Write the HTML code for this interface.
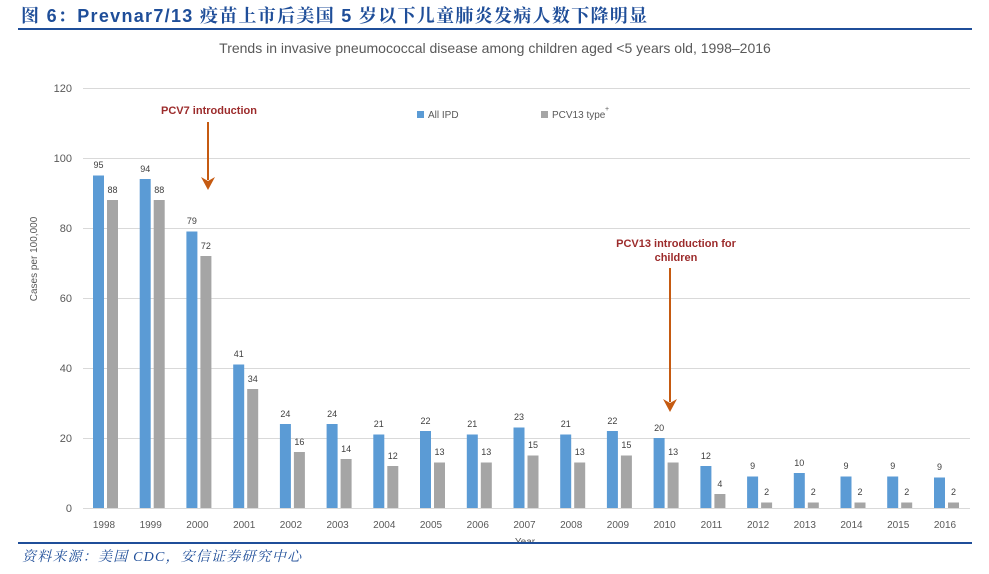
<!DOCTYPE html>
<html><head><meta charset="utf-8"><style>
body{margin:0;background:#fff;width:989px;height:574px;overflow:hidden}
svg{display:block}
.t{font-family:"Liberation Sans",sans-serif}
</style></head><body>
<svg width="989" height="574" class="t">
<text x="21" y="22" font-size="18" font-weight="bold" fill="#1f4e99" letter-spacing="1.3" font-family="'Liberation Sans','Noto Serif CJK SC',sans-serif">图 6：Prevnar7/13 疫苗上市后美国 5 岁以下儿童肺炎发病人数下降明显</text>
<rect x="18" y="28" width="954" height="2" fill="#1f4e99"/>
<text x="495" y="53" font-size="14" fill="#595959" text-anchor="middle">Trends in invasive pneumococcal disease among children aged &lt;5 years old, 1998–2016</text>
<g stroke="#d9d9d9" stroke-width="1">
<line x1="83" x2="970" y1="88.5" y2="88.5"/><line x1="83" x2="970" y1="158.5" y2="158.5"/><line x1="83" x2="970" y1="228.5" y2="228.5"/><line x1="83" x2="970" y1="298.5" y2="298.5"/><line x1="83" x2="970" y1="368.5" y2="368.5"/><line x1="83" x2="970" y1="438.5" y2="438.5"/><line x1="83" x2="970" y1="508.5" y2="508.5"/>
</g>
<g font-size="11" fill="#595959" text-anchor="end">
<text x="72" y="92">120</text><text x="72" y="162">100</text><text x="72" y="232">80</text><text x="72" y="302">60</text><text x="72" y="372">40</text><text x="72" y="442">20</text><text x="72" y="512">0</text>
</g>
<text transform="translate(37,259) rotate(-90)" font-size="10" fill="#595959" text-anchor="middle">Cases per 100,000</text>
<rect x="417" y="111" width="7" height="7" fill="#5b9bd5"/><text x="428" y="118" font-size="10" fill="#595959">All IPD</text>
<rect x="541" y="111" width="7" height="7" fill="#a5a5a5"/><text x="552" y="118" font-size="10" fill="#595959">PCV13 type</text><text x="605" y="111" font-size="7" fill="#595959">+</text>
<g fill="#5b9bd5">
<rect x="93" y="175.5" width="11" height="332.5"/>
<rect x="139.7" y="179" width="11" height="329"/>
<rect x="186.4" y="231.5" width="11" height="276.5"/>
<rect x="233.2" y="364.5" width="11" height="143.5"/>
<rect x="279.9" y="424" width="11" height="84"/>
<rect x="326.6" y="424" width="11" height="84"/>
<rect x="373.3" y="434.5" width="11" height="73.5"/>
<rect x="420" y="431" width="11" height="77"/>
<rect x="466.8" y="434.5" width="11" height="73.5"/>
<rect x="513.5" y="427.5" width="11" height="80.5"/>
<rect x="560.2" y="434.5" width="11" height="73.5"/>
<rect x="606.9" y="431" width="11" height="77"/>
<rect x="653.6" y="438" width="11" height="70"/>
<rect x="700.4" y="466" width="11" height="42"/>
<rect x="747.1" y="476.5" width="11" height="31.5"/>
<rect x="793.8" y="473" width="11" height="35"/>
<rect x="840.5" y="476.5" width="11" height="31.5"/>
<rect x="887.2" y="476.5" width="11" height="31.5"/>
<rect x="934" y="477.5" width="11" height="30.5"/>
</g>
<g fill="#a5a5a5">
<rect x="107" y="200" width="11" height="308"/>
<rect x="153.7" y="200" width="11" height="308"/>
<rect x="200.4" y="256" width="11" height="252"/>
<rect x="247.2" y="389" width="11" height="119"/>
<rect x="293.9" y="452" width="11" height="56"/>
<rect x="340.6" y="459" width="11" height="49"/>
<rect x="387.3" y="466" width="11" height="42"/>
<rect x="434" y="462.5" width="11" height="45.5"/>
<rect x="480.8" y="462.5" width="11" height="45.5"/>
<rect x="527.5" y="455.5" width="11" height="52.5"/>
<rect x="574.2" y="462.5" width="11" height="45.5"/>
<rect x="620.9" y="455.5" width="11" height="52.5"/>
<rect x="667.6" y="462.5" width="11" height="45.5"/>
<rect x="714.4" y="494" width="11" height="14"/>
<rect x="761.1" y="502.5" width="11" height="5.5"/>
<rect x="807.8" y="502.5" width="11" height="5.5"/>
<rect x="854.5" y="502.5" width="11" height="5.5"/>
<rect x="901.2" y="502.5" width="11" height="5.5"/>
<rect x="948" y="502.5" width="11" height="5.5"/>
</g>
<g font-size="9" fill="#404040" text-anchor="middle">
<text x="98.5" y="168">95</text><text x="112.5" y="193">88</text>
<text x="145.2" y="172">94</text><text x="159.2" y="193">88</text>
<text x="191.9" y="224">79</text><text x="205.9" y="249">72</text>
<text x="238.7" y="357">41</text><text x="252.7" y="382">34</text>
<text x="285.4" y="417">24</text><text x="299.4" y="445">16</text>
<text x="332.1" y="417">24</text><text x="346.1" y="452">14</text>
<text x="378.8" y="427">21</text><text x="392.8" y="459">12</text>
<text x="425.5" y="424">22</text><text x="439.5" y="455">13</text>
<text x="472.3" y="427">21</text><text x="486.3" y="455">13</text>
<text x="519" y="420">23</text><text x="533" y="448">15</text>
<text x="565.7" y="427">21</text><text x="579.7" y="455">13</text>
<text x="612.4" y="424">22</text><text x="626.4" y="448">15</text>
<text x="659.1" y="431">20</text><text x="673.1" y="455">13</text>
<text x="705.9" y="459">12</text><text x="719.9" y="487">4</text>
<text x="752.6" y="469">9</text><text x="766.6" y="495">2</text>
<text x="799.3" y="466">10</text><text x="813.3" y="495">2</text>
<text x="846" y="469">9</text><text x="860" y="495">2</text>
<text x="892.7" y="469">9</text><text x="906.7" y="495">2</text>
<text x="939.5" y="470">9</text><text x="953.5" y="495">2</text>
</g>
<g font-size="10" fill="#595959" text-anchor="middle">
<text x="104" y="528">1998</text><text x="150.7" y="528">1999</text><text x="197.4" y="528">2000</text><text x="244.2" y="528">2001</text><text x="290.9" y="528">2002</text><text x="337.6" y="528">2003</text><text x="384.3" y="528">2004</text><text x="431" y="528">2005</text><text x="477.8" y="528">2006</text><text x="524.5" y="528">2007</text><text x="571.2" y="528">2008</text><text x="617.9" y="528">2009</text><text x="664.6" y="528">2010</text><text x="711.4" y="528">2011</text><text x="758.1" y="528">2012</text><text x="804.8" y="528">2013</text><text x="851.5" y="528">2014</text><text x="898.2" y="528">2015</text><text x="945" y="528">2016</text>
<text x="525" y="545">Year</text>
</g>
<g font-size="11" font-weight="bold" fill="#9c2b2b" text-anchor="middle">
<text x="209" y="114">PCV7 introduction</text>
<text x="676" y="247">PCV13 introduction for</text>
<text x="676" y="261">children</text>
</g>
<g stroke="#c55a11" stroke-width="2" fill="#c55a11">
<line x1="208" y1="122" x2="208" y2="180"/>
<line x1="670" y1="268" x2="670" y2="402"/>
</g>
<polygon points="201,177 208,190 215,177 208,181" fill="#c55a11"/>
<polygon points="663,399 670,412 677,399 670,403" fill="#c55a11"/>
<rect x="0" y="542" width="989" height="32" fill="#fff"/>
<rect x="18" y="542" width="954" height="2" fill="#1f4e99"/>
<text x="22" y="561" font-size="14" font-style="italic" letter-spacing="1.2" fill="#1f4e99" font-family="'Liberation Serif','Noto Serif CJK SC',serif">资料来源：美国 CDC，安信证券研究中心</text>
</svg>
</body></html>
